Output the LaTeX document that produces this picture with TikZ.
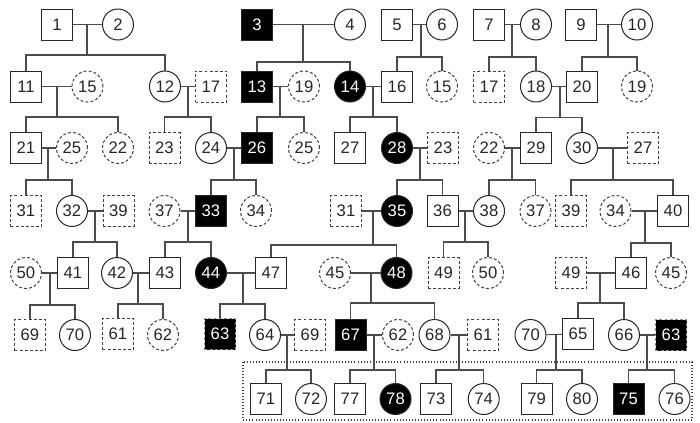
\documentclass[tikz,border=0pt]{standalone}
\usepackage{fontspec}
\setmainfont{Liberation Sans}
\tikzset{
  pn/.style={draw=black!85, line width=0.75pt, minimum size=23.25pt, inner sep=0pt,
    font=\fontsize{12.5}{14}\selectfont, text=black!85},
  sq/.style={pn, rectangle},
  ci/.style={pn, circle},
  dsh/.style={dash pattern=on 2.2pt off 1.6pt, draw=black!75},
  aff/.style={fill=black, text=white},
  conn/.style={draw=black!70, line width=0.8pt},
  grp/.style={draw=black!75, line width=0.8pt, dash pattern=on 0.7pt off 1.6pt},
}
\newcommand\pfam[7]{%
  \draw[conn] (#1) -- (#2);
  \coordinate (#3) at (#4,#5);
  \draw[conn] (#3) -- (#3 |- #1);
  \draw[conn] (#6.north) |- (#3) -| (#7.north);
}
\begin{document}
\begin{tikzpicture}[x=0.75pt,y=-0.75pt]
\useasboundingbox (0,0) rectangle (700,422);
% row 1
\node[sq] (n1) at (57,24.5) {1};
\node[ci] (n2) at (118,24.5) {2};
\node[sq,aff] (n3) at (257,24.5) {3};
\node[ci] (n4) at (350,24.5) {4};
\node[sq] (n5) at (397,24.5) {5};
\node[ci] (n6) at (442,24.5) {6};
\node[sq] (n7) at (489,24.5) {7};
\node[ci] (n8) at (536,24.5) {8};
\node[sq] (n9) at (581,24.5) {9};
\node[ci] (n10) at (637,24.5) {10};
% row 2
\node[sq] (n11) at (26,86.5) {11};
\node[ci,dsh] (n15a) at (87.5,86.5) {15};
\node[ci] (n12) at (165,86.5) {12};
\node[sq,dsh] (n17a) at (211,86.5) {17};
\node[sq,aff] (n13) at (257,86.5) {13};
\node[ci,dsh] (n19a) at (304,86.5) {19};
\node[ci,aff] (n14) at (350,86.5) {14};
\node[sq] (n16) at (397,86.5) {16};
\node[ci,dsh] (n15b) at (442,86.5) {15};
\node[sq,dsh] (n17b) at (489,86.5) {17};
\node[ci] (n18) at (536,86.5) {18};
\node[sq] (n20) at (582,86.5) {20};
\node[ci,dsh] (n19b) at (637,86.5) {19};
% row 3
\node[sq] (n21) at (26,148) {21};
\node[ci,dsh] (n25a) at (72,148) {25};
\node[ci,dsh] (n22a) at (118,148) {22};
\node[sq,dsh] (n23a) at (164.5,148) {23};
\node[ci] (n24) at (211,148) {24};
\node[sq,aff] (n26) at (257,148) {26};
\node[ci,dsh] (n25b) at (304,148) {25};
\node[sq] (n27a) at (350,148) {27};
\node[ci,aff] (n28) at (397,148) {28};
\node[sq,dsh] (n23b) at (443,148) {23};
\node[ci,dsh] (n22b) at (489,148) {22};
\node[sq] (n29) at (536,148) {29};
\node[ci] (n30) at (582,148) {30};
\node[sq,dsh] (n27b) at (643,148) {27};
% row 4
\node[sq,dsh] (n31a) at (26,211) {31};
\node[ci] (n32) at (72,211) {32};
\node[sq,dsh] (n39a) at (118.5,211) {39};
\node[ci,dsh] (n37a) at (164.5,211) {37};
\node[sq,aff] (n33) at (211,211) {33};
\node[ci,dsh] (n34a) at (256,211) {34};
\node[sq,dsh] (n31b) at (346,211) {31};
\node[ci,aff] (n35) at (397,211) {35};
\node[sq] (n36) at (442.5,211) {36};
\node[ci] (n38) at (489,211) {38};
\node[ci,dsh] (n37b) at (535.5,211) {37};
\node[sq,dsh] (n39b) at (571,211) {39};
\node[ci,dsh] (n34b) at (615.5,211) {34};
\node[sq] (n40) at (673,211) {40};
% row 5
\node[ci,dsh] (n50a) at (26,273) {50};
\node[sq] (n41) at (73,273) {41};
\node[ci] (n42) at (117,273) {42};
\node[sq] (n43) at (165,273) {43};
\node[ci,aff] (n44) at (211,273) {44};
\node[sq] (n47) at (271,273) {47};
\node[ci,dsh] (n45a) at (335,273) {45};
\node[ci,aff] (n48) at (396.5,273) {48};
\node[sq,dsh] (n49a) at (443.5,273) {49};
\node[ci,dsh] (n50b) at (488,273) {50};
\node[sq,dsh] (n49b) at (571,273) {49};
\node[sq] (n46) at (631,273) {46};
\node[ci,dsh] (n45b) at (671,273) {45};
% row 6
\node[sq,dsh] (n69a) at (30,335) {69};
\node[ci] (n70a) at (75,335) {70};
\node[sq,dsh] (n61a) at (118,334) {61};
\node[ci,dsh] (n62a) at (163,335) {62};
\node[sq,aff,dsh,draw=black!45] (n63a) at (220,334) {63};
\node[ci] (n64) at (265,335) {64};
\node[sq,dsh] (n69b) at (310,335) {69};
\node[sq,aff] (n67) at (350.5,335) {67};
\node[ci,dsh] (n62b) at (398,335) {62};
\node[ci] (n68) at (434.5,335) {68};
\node[sq,dsh] (n61b) at (483,335) {61};
\node[ci] (n70b) at (530.5,335) {70};
\node[sq] (n65) at (578,334) {65};
\node[ci] (n66) at (624,335) {66};
\node[sq,aff,dsh,draw=black!45] (n63b) at (671,335) {63};
% row 7
\node[sq] (n71) at (266,399) {71};
\node[ci] (n72) at (311,399) {72};
\node[sq] (n77) at (350,399) {77};
\node[ci,aff] (n78) at (395.5,399) {78};
\node[sq] (n73) at (436,399) {73};
\node[ci] (n74) at (483.7,399) {74};
\node[sq] (n79) at (536.7,399) {79};
\node[ci] (n80) at (582,399) {80};
\node[sq,aff] (n75) at (628.5,399) {75};
\node[ci] (n76) at (674.5,399) {76};
% families
\pfam{n1}{n2}{f1}{87}{55}{n11}{n12}
\pfam{n3}{n4}{f2}{303}{62}{n13}{n14}
\pfam{n5}{n6}{f3}{421}{57}{n16}{n15b}
\pfam{n7}{n8}{f4}{512}{57}{n17b}{n18}
\pfam{n9}{n10}{f5}{608}{57}{n20}{n19b}
\pfam{n11}{n15a}{f6}{57}{117}{n21}{n22a}
\pfam{n12}{n17a}{f7}{188}{117}{n23a}{n24}
\pfam{n13}{n19a}{f8}{280}{117}{n26}{n25b}
\pfam{n14}{n16}{f9}{373}{117}{n27a}{n28}
\pfam{n18}{n20}{f10}{560}{117.5}{n29}{n30}
\pfam{n21}{n25a}{f11}{48}{180}{n31a}{n32}
\pfam{n24}{n26}{f12}{234}{180}{n33}{n34a}
\pfam{n28}{n23b}{f13}{420}{180}{n35}{n36}
\pfam{n22b}{n29}{f14}{512}{180}{n38}{n37b}
\pfam{n30}{n27b}{f15}{613}{180}{n39b}{n40}
\pfam{n32}{n39a}{f16}{95}{242}{n41}{n42}
\pfam{n37a}{n33}{f17}{188}{242}{n43}{n44}
\pfam{n31b}{n35}{f18}{373}{245}{n47}{n48}
\pfam{n36}{n38}{f19}{465}{242}{n49a}{n50b}
\pfam{n34b}{n40}{f20}{645}{243}{n46}{n45b}
\pfam{n50a}{n41}{f21}{50}{305}{n69a}{n70a}
\pfam{n42}{n43}{f22}{138}{304}{n61a}{n62a}
\pfam{n44}{n47}{f23}{243}{304}{n63a}{n64}
\pfam{n45a}{n48}{f24}{371}{303}{n67}{n68}
\pfam{n49b}{n46}{f25}{600}{303}{n65}{n66}
\pfam{n64}{n69b}{f26}{287}{370}{n71}{n72}
\pfam{n67}{n62b}{f27}{374}{370}{n77}{n78}
\pfam{n68}{n61b}{f28}{459}{370}{n73}{n74}
\pfam{n70b}{n65}{f29}{556}{370}{n79}{n80}
\pfam{n66}{n63b}{f30}{647}{370}{n75}{n76}
% group box
\draw[grp] (243,362) rectangle (692,420);
\end{tikzpicture}
\end{document}
